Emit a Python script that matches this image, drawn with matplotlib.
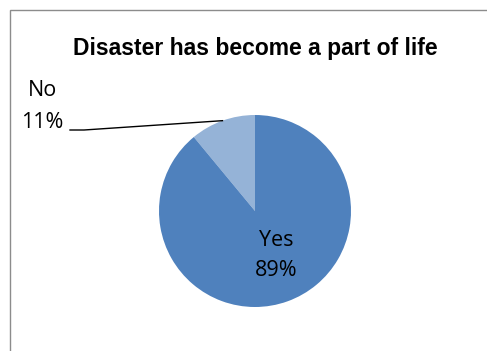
import matplotlib.pyplot as plt
from matplotlib.patches import Rectangle
import numpy as np

labels = ["No", "Yes"]
values = [11, 89]
colors = ["#95B3D7", "#4F81BD"]
title = "Disaster has become a part of life"

W, H = 487, 351
fig = plt.figure(figsize=(W / 100, H / 100), dpi=100)
ax = fig.add_axes([0, 0, 1, 1])

plt.rcParams["font.family"] = ["Open Sans", "DejaVu Sans"]

cx, cy, r = 255, 140, 96
wedges, _ = ax.pie(values, colors=colors, startangle=90, counterclock=True,
                   center=(cx, cy), radius=r, frame=True,
                   wedgeprops=dict(linewidth=0))
ax.set_xlim(0, W)
ax.set_ylim(0, H)
ax.set_aspect("equal")
ax.axis("off")

# chart frame, runs off the right and bottom edges
ax.add_patch(Rectangle((9.5, -10), W, H - 9.5 + 10, fill=False,
                       edgecolor="#8c8c8c", linewidth=1.0))

total = sum(values)
pct = [f"{v / total * 100:.0f}%" for v in values]

ax.text(255, H - 49, title, ha="center", va="center",
        fontsize=16.5, fontweight="bold", family="Liberation Sans")

# "No" label outside with leader line
ax.text(42, H - 90, labels[0], ha="center", va="center", fontsize=15.5)
ax.text(42, H - 122, pct[0], ha="center", va="center", fontsize=15.5)
w = wedges[0]
mid = np.deg2rad((w.theta1 + w.theta2) / 2)
ex, ey = cx + r * np.cos(mid), cy + r * np.sin(mid)
ax.plot([70, 84, ex], [H - 130, H - 130, ey], color="black", linewidth=1)

# "Yes" label inside
ax.text(276, H - 240, labels[1], ha="center", va="center", fontsize=15.5)
ax.text(276, H - 270, pct[1], ha="center", va="center", fontsize=15.5)

fig.savefig("out.png", dpi=100)
